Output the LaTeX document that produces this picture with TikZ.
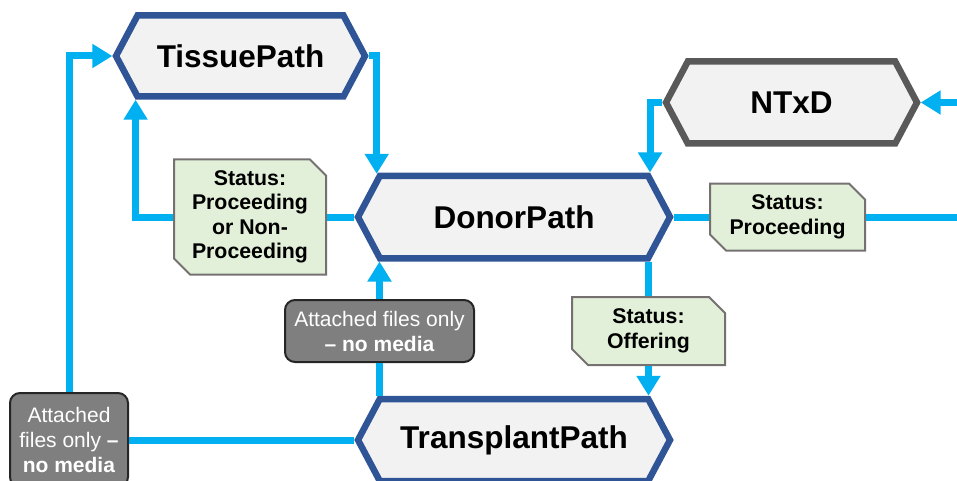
\documentclass[tikz,border=0pt]{standalone}
\usepackage{fontspec}
\setmainfont{Liberation Sans}
\usetikzlibrary{shapes.symbols,shapes.misc,arrows.meta}
\definecolor{flowblue}{HTML}{00B0F0}
\definecolor{pathblue}{HTML}{2F5597}
\definecolor{hexgray}{HTML}{595959}
\definecolor{hexfill}{HTML}{F2F2F2}
\definecolor{statfill}{HTML}{E2F0D9}
\definecolor{statline}{HTML}{767171}
\definecolor{mediafill}{HTML}{7F7F7F}

\begin{document}
\begin{tikzpicture}[x=1pt, y=-1pt,
        hexnode/.style={shape=signal, signal to=west and east, signal pointer angle=124,
            draw=pathblue, fill=hexfill, line width=6.5pt, inner sep=0pt,
            font=\fontsize{31.5}{36}\selectfont\bfseries},
        status/.style={chamfered rectangle, chamfered rectangle corners={north east,south west},
            chamfered rectangle xsep=8pt, chamfered rectangle ysep=8pt, inner sep=0pt,
            draw=statline, fill=statfill, line width=2pt, align=center,
            font=\fontsize{21.3}{24.5}\selectfont\bfseries},
        media/.style={draw=black!85, fill=mediafill, line width=2pt, rounded corners=10pt,
            inner sep=0pt, text=white, align=center, font=\fontsize{21}{25}\selectfont},
        flow/.style={draw=flowblue, line width=7pt},
        tip/.style={-{Triangle[width=23pt,length=20pt]}}]
    \useasboundingbox (0,0) rectangle (957,481);
    \node[hexnode, minimum width=249pt, minimum height=81pt] (tissue) at (240.5,56) {TissuePath};
    \node[hexnode, minimum width=312pt, minimum height=82.5pt] (donor) at (514,217) {DonorPath};
    \node[hexnode, draw=hexgray, minimum width=251pt, minimum height=82pt] (ntxd) at (791.5,102.5) {NTxD};
    \node[hexnode, minimum width=312pt, minimum height=82pt] (trans) at (514,440) {TransplantPath};
    \node[status, minimum width=152pt, minimum height=115pt] (s1) at (250,217)
        {Status:\\Proceeding\\or Non-\\Proceeding};
    \node[status, minimum width=155pt, minimum height=67pt] (s2) at (787.5,217) {Status:\\Proceeding};
    \node[status, minimum width=153pt, minimum height=68pt] (s3) at (648.5,331) {Status:\\Offering};
    \node[media, minimum width=189pt, minimum height=62pt] (g1) at (379.5,331)
        {Attached files only\\\textbf{– no media}};
    \node[media, minimum width=118pt, minimum height=94pt] (g2) at (69,440)
        {Attached\\files only \textbf{–}\\\textbf{no media}};
    \coordinate (rin) at (957,102.5);
    \coordinate (rout) at (957,217);

    \draw[flow, tip] (g2.north) |- (tissue.west);
    \draw[flow, tip] (s1.west) -| (tissue.south west);
    \draw[flow] (donor.west) -- (s1.east);
    \draw[flow, tip] (tissue.east) -| (donor.north west);
    \draw[flow, tip] (ntxd.west) -| (donor.north east);
    \draw[flow, tip] (rin) -- (ntxd.east);
    \draw[flow] (donor.east) -- (s2.west);
    \draw[flow] (s2.east) -- (rout);
    \draw[flow] (s3.north |- donor.south) -- (s3.north);
    \draw[flow, tip] (s3.south) -- (s3.south |- trans.north);
    \draw[flow, tip] (g1.north) -- (g1.north |- donor.south);
    \draw[flow] (g1.south) -- (g1.south |- trans.north);
    \draw[flow] (g2.east) -- (trans.west);
\end{tikzpicture}
\end{document}
